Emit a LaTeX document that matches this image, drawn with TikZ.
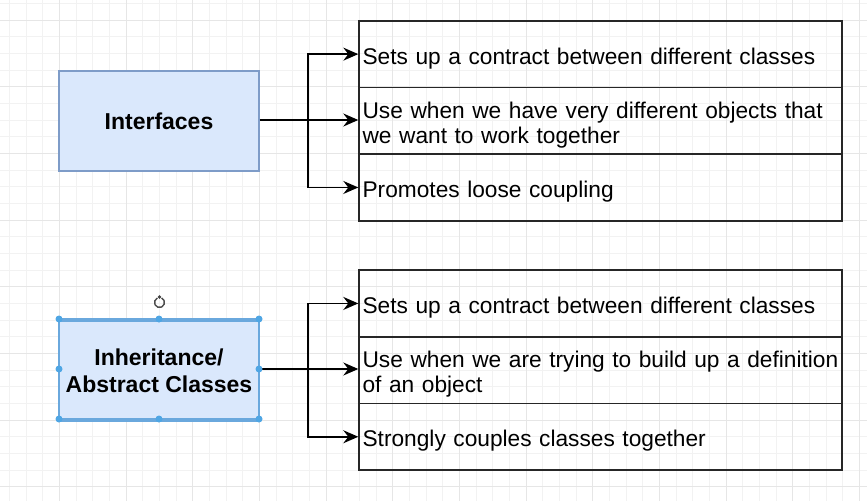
\documentclass[tikz,border=0pt]{standalone}
\usepackage{fontspec}
\setmainfont{Liberation Sans}
\usetikzlibrary{arrows.meta}
\definecolor{gridminor}{HTML}{F2F2F2}
\definecolor{gridmajor}{HTML}{E6E6E6}
\definecolor{boxfill}{HTML}{DAE8FC}
\definecolor{boxline}{HTML}{7E9CC8}
\definecolor{selblue}{HTML}{4FA6E4}
\definecolor{selline}{HTML}{6AA8DD}

\begin{document}
\begin{tikzpicture}[x=1pt,y=-1pt,
  concept/.style={draw=boxline, fill=boxfill, line width=1.2pt,
    minimum width=200pt, minimum height=100pt, inner sep=0pt,
    align=center, font=\bfseries\fontsize{23}{26.5}\selectfont},
  cell/.style={draw=black!85, line width=1.6pt, anchor=north west,
    minimum width=483pt, minimum height=66.67pt, text width=476pt,
    inner xsep=3.5pt, inner ysep=0pt, align=left,
    font=\fontsize{22.7}{25.3}\selectfont,
    execute at begin node={\rule{0pt}{25pt}}},
  link/.style={draw=black, line width=1.6pt,
    -{Stealth[length=15pt,width=13pt,inset=5pt]}},
  handle/.style={circle, fill=selblue, inner sep=0pt, minimum size=7pt}]
\useasboundingbox (0,0) rectangle (867,501);

% canvas and grid
\fill[white] (0,0) rectangle (867,501);
\begin{scope}
\clip (0,0) rectangle (867,501);
\foreach \i in {0,...,52} \draw[gridminor, line width=0.8pt] ({9.3+16.667*\i},0) -- ({9.3+16.667*\i},501);
\foreach \j in {0,...,30} \draw[gridminor, line width=0.8pt] (0,{3.33+16.667*\j}) -- (867,{3.33+16.667*\j});
\foreach \i in {1,...,13} \draw[gridmajor, line width=0.8pt] ({-7.4+66.667*\i},0) -- ({-7.4+66.667*\i},501);
\foreach \j in {0,...,7} \draw[gridmajor, line width=0.8pt] (0,{20+66.667*\j}) -- (867,{20+66.667*\j});
\end{scope}

% interfaces
\node[concept] (iface) at (159,121) {Interfaces};
\node[cell] (i1) at (358.3,20) {Sets up a contract between different classes};
\node[cell] (i2) at (358.3,86.67) {Use when we have very different objects that\\we want to work together};
\node[cell] (i3) at (358.3,153.33) {Promotes loose coupling};
\coordinate (ij) at (308,120);
\draw[link] (ij -| iface.east) -- (ij -| i2.west);
\draw[link] (ij) |- (i1.west);
\draw[link] (ij) |- (i3.west);

% inheritance / abstract classes (selected shape)
\node[concept, draw=selline] (inh) at (159,371) {Inheritance/\\Abstract Classes};
\node[cell] (a1) at (358.3,269.3) {Sets up a contract between different classes};
\node[cell] (a2) at (358.3,335.97) {\mbox{Use when we are trying to build up a definition}\\of an object};
\node[cell] (a3) at (358.3,402.63) {Strongly couples classes together};
\coordinate (aj) at (308,369);
\draw[link] (aj -| inh.east) -- (aj -| a2.west);
\draw[link] (aj) |- (a1.west);
\draw[link] (aj) |- (a3.west);

% selection outline and handles
\coordinate (hnw) at (59,319);
\coordinate (hse) at (259,419);
\draw[selline, line width=1.2pt] (hnw) rectangle (hse);
\foreach \hx/\hy in {59/319,159/319,259/319,59/369,259/369,59/419,159/419,259/419}
  \node[handle] at (\hx,\hy) {};
% rotation handle
\coordinate (rot) at (159.5,302.5);
\draw[black!70, line width=1.4pt] ([shift={(115:5pt)}]rot) arc (115:425:5pt);
\fill[black!75] ([shift={(90:5.5pt)}]rot) circle (1.9pt);
\end{tikzpicture}
\end{document}
